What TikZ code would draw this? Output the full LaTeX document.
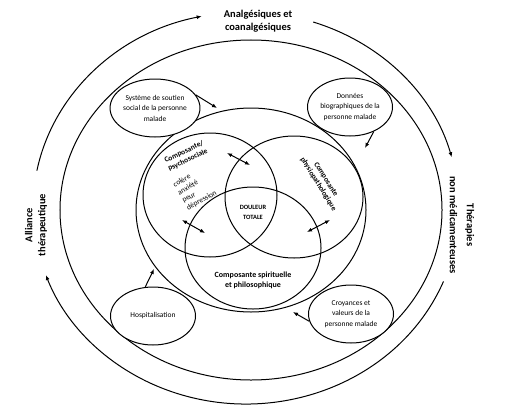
\documentclass[tikz,border=0pt]{standalone}
\usepackage{fontspec}
\setmainfont{Carlito}
\usetikzlibrary{shapes.geometric,arrows.meta,calc}
\begin{document}
\begin{tikzpicture}[x=1bp,y=1bp,
  line/.style={line width=1bp, draw=black},
  tip/.style={-{Latex[length=5bp,width=4bp]}},
  dtip/.style={{Latex[length=5bp,width=4bp]}-{Latex[length=5bp,width=4bp]}},
  bubble/.style={draw, line width=1bp, ellipse, minimum width=85bp, minimum height=58bp, inner sep=0pt, align=center, font=\fontsize{7.5}{10.5}\selectfont},
  outerlabel/.style={font=\bfseries\fontsize{10.5}{12}\selectfont, align=center, inner sep=0pt},
  comp/.style={font=\bfseries\fontsize{7.5}{9}\selectfont, align=center, inner sep=0pt},
]
\useasboundingbox (0,0) rectangle (516,407);
% outer broken ellipse
\coordinate (oc) at (246,199);
\draw[line,tip] ($(oc)+(169:213bp and 196bp)$) arc[start angle=169, end angle=102, x radius=213bp, y radius=196bp];
\draw[line,tip] ($(oc)+(71.6:213bp and 196bp)$) arc[start angle=71.6, end angle=15, x radius=213bp, y radius=196bp];
\draw[line,tip] ($(oc)+(-22:213bp and 196bp)$) arc[start angle=-22, end angle=-160, x radius=213bp, y radius=196bp];
% middle and inner ellipses
\draw[line] (251,197) ellipse [x radius=191bp, y radius=170bp];
\draw[line] (251,197) ellipse [x radius=115bp, y radius=102bp];
% Venn
\draw[line] (210,212) ellipse [x radius=67bp, y radius=62bp];
\draw[line] (294,210) ellipse [x radius=69bp, y radius=61bp];
\draw[line] (253,159) ellipse [x radius=68bp, y radius=61bp];
% outer labels
\node[outerlabel] (analg) at (258,386) {Analgésiques et\\[1bp]coanalgésiques};
\node[outerlabel, rotate=90] (alli) at (36,182) {Alliance\\[1bp]thérapeutique};
\node[outerlabel, rotate=-90] (thera) at (462,182) {Thérapies\\[5bp]non médicamenteuses};
% Venn labels
\node[font=\bfseries\fontsize{6.5}{10}\selectfont, align=center, inner sep=0pt] (dt) at (253,195) {DOULEUR\\TOTALE};
\node[comp, font=\bfseries\fontsize{8}{10}\selectfont] (spir) at (253,127) {Composante spirituelle\\et philosophique};
\node[comp, rotate=25] (psy) at (186,251) {Composante/\\psychosociale};
\node[align=left, rotate=30, inner sep=0pt, font=\fontsize{7.5}{9}\selectfont] (psyl) at (195,218) {colère\\anxiété\\peur\\dépression};
\node[comp, rotate=-58] (phys) at (322,225) {Composante\\physiopathologique};
% Venn double arrows
\coordinate (a1) at (227,254); \coordinate (a2) at (250,242);
\coordinate (b1) at (182,187); \coordinate (b2) at (205,174);
\coordinate (c1) at (307,175); \coordinate (c2) at (330,187);
\draw[line,dtip] (a1) -- (a2);
\draw[line,dtip] (b1) -- (b2);
\draw[line,dtip] (c1) -- (c2);
% bubbles
\node[bubble, fill=white] (sys) at (155,299) {Système de soutien\\social de la personne\\malade};
\node[bubble, fill=white] (don) at (350,300) {Données\\biographiques de la\\personne malade};
\node[bubble, fill=white] (hosp) at (153,91) {Hospitalisation};
\node[bubble, fill=white] (croy) at (351,93) {Croyances et\\valeurs de la\\personne malade};
\coordinate (sysE) at (217,299);
\coordinate (donE) at (365,259);
\coordinate (hospE) at (154,138);
\coordinate (croyE) at (293,95);
\draw[line,tip] (sys.18) -- (sysE);
\draw[line,tip] (don.-46) -- (donE);
\draw[line,tip] (hosp.105) -- (hospE);
\draw[line,tip] (croy.190) -- (croyE);
\end{tikzpicture}
\end{document}
